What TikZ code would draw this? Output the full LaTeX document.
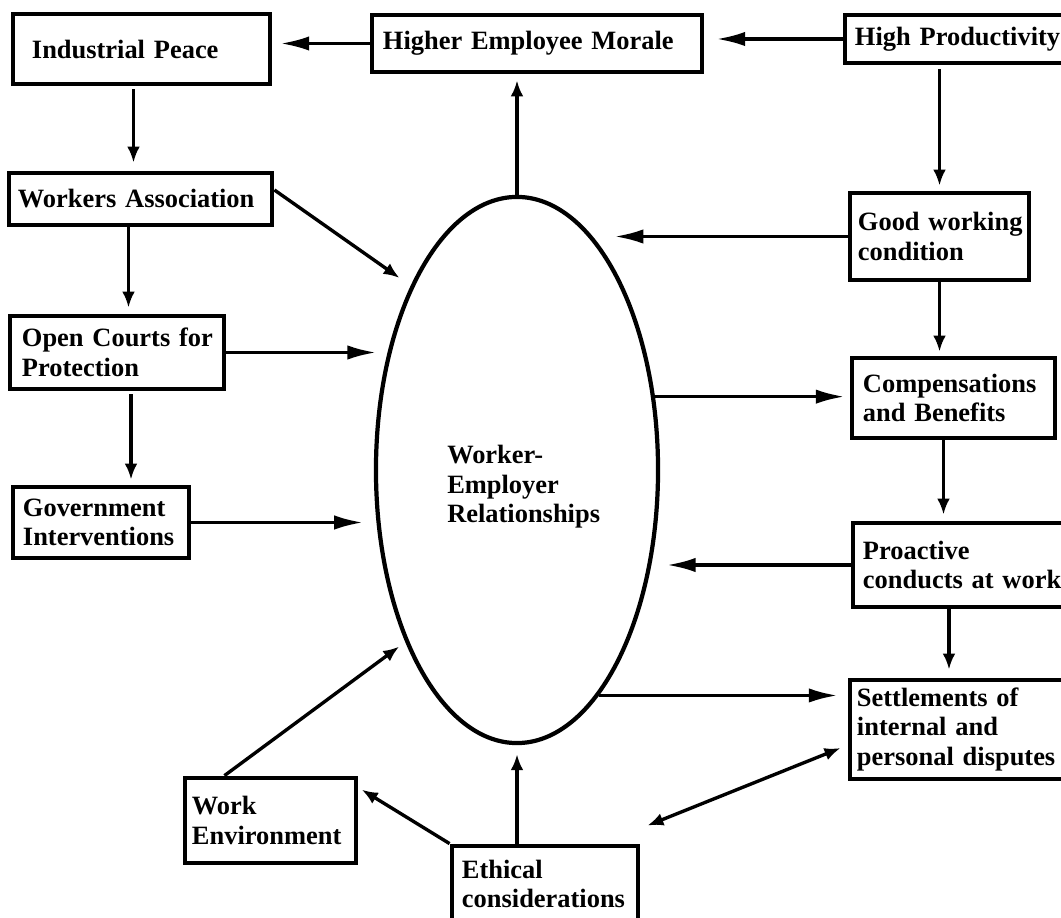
\documentclass[tikz,border=0pt]{standalone}
\usepackage{fontspec}
\setmainfont{Liberation Serif}
\usetikzlibrary{arrows.meta,shapes.geometric}

\begin{document}
\begin{tikzpicture}[x=0.025cm,y=-0.025cm,
  >={Latex[length=0.4cm,width=0.32cm]},
  box/.style={draw,line width=3.4pt,inner ysep=0pt,align=left,
    font=\fontsize{18.8}{21}\selectfont\bfseries,
    execute at begin node={\hyphenpenalty=10000}},
  arr/.style={line width=2.4pt,->},
  dblarr/.style={line width=2.4pt,<->},
  longarr/.style={line width=2.4pt,-{Latex[length=0.72cm,width=0.36cm]}}]
\clip (0,0) rectangle (1061,918);
% boxes
\node[box,minimum height=1.75cm,inner xsep=0.475cm,text width=5.475cm] (peace) at (141.5,49) {Industrial~Peace};
\node[box,minimum height=1.425cm,inner xsep=0.275cm,text width=7.7cm] (morale) at (537,43.5) {Higher~Employee~Morale};
\node[box,minimum height=1.2cm,inner xsep=0.25cm,text width=5.25cm] (prod) at (960,39) {High~Productivity};
\node[box,minimum height=1.3cm,inner xsep=0.225cm,text width=6.125cm] (workers) at (140.5,199) {Workers~Association};
\node[box,minimum height=1.825cm,inner xsep=0.3cm,text width=4.75cm] (courts) at (117,352.5) {Open~Courts~for\\Protection};
\node[box,minimum height=1.775cm,inner xsep=0.25cm,text width=3.9cm] (govt) at (101,522.5) {Government\\Interventions};
\node[box,minimum height=2.175cm,inner xsep=0.2cm,text width=4.075cm] (goodwc) at (939.5,236.5) {Good~working\\condition};
\node[box,minimum height=2cm,inner xsep=0.275cm,text width=4.525cm] (comp) at (953.5,398) {Compensations\\and~Benefits};
\node[box,minimum height=2.1cm,inner xsep=0.25cm,text width=5.05cm] (proact) at (964,565) {Proactive\\conducts~at~work};
\node[box,minimum height=2.475cm,inner xsep=0.175cm,text width=5.275cm] (settle) at (962.5,729.5) {Settlements~of\\internal~and\\personal~disputes};
\node[box,minimum height=2.125cm,inner xsep=0.175cm,text width=3.925cm] (workenv) at (270.5,820.5) {Work\\Environment};
\node[box,minimum height=1.9cm,inner xsep=0.25cm,text width=4.15cm] (ethic) at (545,884) {Ethical\\considerations};
% centre
\node[draw,ellipse,line width=3pt,inner sep=0pt,minimum width=7.05cm,minimum height=13.65cm] (wer) at (517,470) {};
\node[anchor=north west,inner sep=0pt,align=left,font=\fontsize{18.8}{21}\selectfont\bfseries] (werlabel) at (447,445) {Worker-\\Employer\\Relationships};
% top row and left column
\draw[arr,shorten >=0.15cm] (wer.north) -- (wer.north |- morale.south);
\draw[longarr,shorten >=0.3cm] (prod.west) -- (prod.west -| morale.east);
\draw[longarr,shorten >=0.2cm] (morale.west) -- (morale.west -| peace.east);
\draw[arr,shorten <=0.075cm,shorten >=0.2cm] ([xshift=-0.2cm]peace.south) -- ([xshift=-0.2cm]peace.south |- workers.north);
\draw[arr,shorten >=0.15cm] ([xshift=-0.3cm]workers.south) -- ([xshift=-0.3cm]workers.south |- courts.north);
\draw[arr,shorten <=0.075cm,shorten >=0.125cm] ([xshift=0.35cm]courts.south) -- ([xshift=0.35cm]courts.south |- govt.north);
\draw[arr,shorten >=0.34cm] ([yshift=0.225cm]workers.east) -- (wer.120);
\draw[longarr,shorten >=0.3cm] (courts.east) -- (wer.137 |- courts.east);
\draw[longarr,shorten >=0.34cm] (govt.east) -- (wer.201 |- govt.east);
% right column
\draw[arr,shorten <=0.1cm,shorten >=0.125cm] (goodwc.north |- prod.south) -- (goodwc.north);
\draw[longarr,shorten >=0.625cm] (goodwc.west) -- (wer.73 |- goodwc.west);
\draw[arr,shorten >=0.1cm] (goodwc.south) -- (goodwc.south |- comp.north);
\draw[longarr,shorten >=0.125cm] (wer.28) -- (wer.28 -| comp.west);
\draw[arr,shorten >=0.15cm] ([xshift=-0.25cm]comp.south) -- ([xshift=-0.25cm]comp.south |- proact.north);
\draw[longarr,shorten >=0.4cm] (proact.west) -- (wer.324 |- proact.west);
\draw[arr,shorten >=0.2cm] ([xshift=-0.375cm]proact.south) -- ([xshift=-0.375cm]proact.south |- settle.north);
\draw[longarr,shorten >=0.25cm] (wer.290) -- (wer.290 -| settle.west);
% bottom
\draw[arr,shorten >=0.225cm] (wer.south |- ethic.north) -- (wer.south);
\draw[arr,shorten >=0.1cm] (ethic.north west) -- ([yshift=-0.3cm]workenv.north east);
\draw[arr,shorten >=0.19cm] ([xshift=-1.15cm]workenv.north) -- (wer.237);
\draw[dblarr] ([xshift=0.175cm,yshift=0.45cm]ethic.north east) -- ([xshift=-0.175cm,yshift=-0.4625cm]settle.west);
\end{tikzpicture}
\end{document}
